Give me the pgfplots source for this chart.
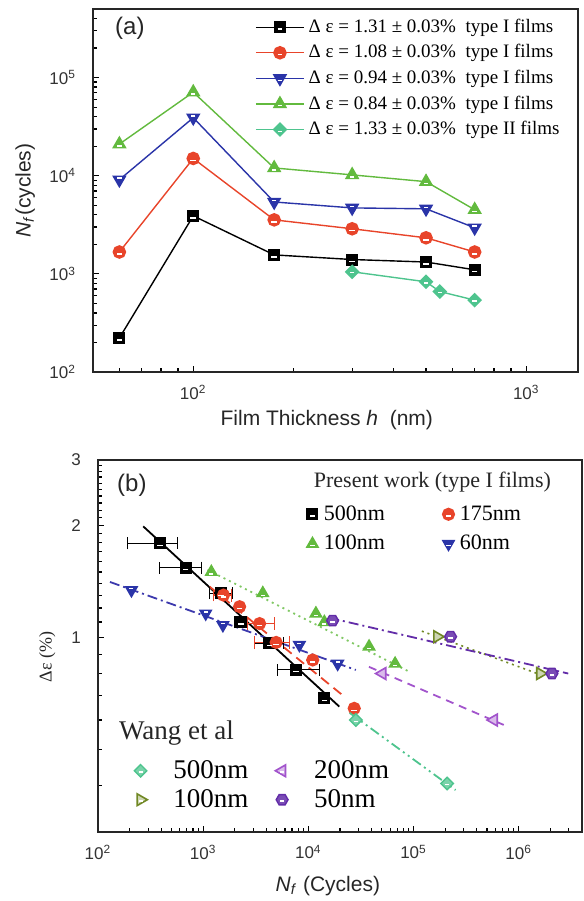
\documentclass[border=0pt]{standalone}
\usepackage{fontspec}
\setmainfont{Liberation Sans}
\newfontfamily\tnr{Liberation Serif}
\usepackage{pgfplots}
\usepackage{pgfplotstable}
\pgfplotsset{compat=1.18}

\definecolor{cRed}{RGB}{232,68,42}
\definecolor{cBlue}{RGB}{42,52,168}
\definecolor{cGreen}{RGB}{98,186,62}
\definecolor{cTeal}{RGB}{78,196,142}
\definecolor{cViolet}{RGB}{162,84,204}
\definecolor{cPurple}{RGB}{98,44,168}
\definecolor{cOlive}{RGB}{112,136,36}

% solid markers painted with a wide stroke (square, disc, triangles, diamond)
\pgfdeclareplotmark{Fsq}{\begin{pgfscope}\pgfsetmiterjoin\pgfsetlinewidth{\pgfplotmarksize}%
  \pgfpathrectangle{\pgfqpoint{-0.5\pgfplotmarksize}{-0.5\pgfplotmarksize}}{\pgfqpoint{\pgfplotmarksize}{\pgfplotmarksize}}%
  \pgfusepathqstroke\end{pgfscope}}
\pgfdeclareplotmark{Fci}{\begin{pgfscope}\pgfsetlinewidth{\pgfplotmarksize}%
  \pgfpathcircle{\pgfpointorigin}{0.5\pgfplotmarksize}\pgfusepathqstroke\end{pgfscope}}
\pgfdeclareplotmark{Ftu}{\begin{pgfscope}\pgfsetmiterjoin\pgfsetlinewidth{0.5\pgfplotmarksize}%
  \pgfpathmoveto{\pgfqpointpolar{90}{0.5\pgfplotmarksize}}%
  \pgfpathlineto{\pgfqpointpolar{210}{0.5\pgfplotmarksize}}%
  \pgfpathlineto{\pgfqpointpolar{330}{0.5\pgfplotmarksize}}%
  \pgfpathclose\pgfusepathqstroke\end{pgfscope}}
\pgfdeclareplotmark{Ftd}{\begin{pgfscope}\pgfsetmiterjoin\pgfsetlinewidth{0.5\pgfplotmarksize}%
  \pgfpathmoveto{\pgfqpointpolar{270}{0.5\pgfplotmarksize}}%
  \pgfpathlineto{\pgfqpointpolar{30}{0.5\pgfplotmarksize}}%
  \pgfpathlineto{\pgfqpointpolar{150}{0.5\pgfplotmarksize}}%
  \pgfpathclose\pgfusepathqstroke\end{pgfscope}}
\pgfdeclareplotmark{Fdi}{\begin{pgfscope}\pgfsetmiterjoin\pgfsetlinewidth{0.707\pgfplotmarksize}%
  \pgfpathmoveto{\pgfqpoint{0pt}{0.5\pgfplotmarksize}}%
  \pgfpathlineto{\pgfqpoint{0.5\pgfplotmarksize}{0pt}}%
  \pgfpathlineto{\pgfqpoint{0pt}{-0.5\pgfplotmarksize}}%
  \pgfpathlineto{\pgfqpoint{-0.5\pgfplotmarksize}{0pt}}%
  \pgfpathclose\pgfusepathqstroke\end{pgfscope}}
% square-shaped diamond and hexagon markers
\pgfdeclareplotmark{rdiamond*}{%
  \pgfpathmoveto{\pgfqpoint{0pt}{1.2\pgfplotmarksize}}%
  \pgfpathlineto{\pgfqpoint{1.2\pgfplotmarksize}{0pt}}%
  \pgfpathlineto{\pgfqpoint{0pt}{-1.2\pgfplotmarksize}}%
  \pgfpathlineto{\pgfqpoint{-1.2\pgfplotmarksize}{0pt}}%
  \pgfpathclose\pgfusepathqfillstroke}
\pgfdeclareplotmark{hexagon*}{%
  \pgfpathmoveto{\pgfqpointpolar{0}{1.1\pgfplotmarksize}}%
  \pgfpathlineto{\pgfqpointpolar{60}{1.1\pgfplotmarksize}}%
  \pgfpathlineto{\pgfqpointpolar{120}{1.1\pgfplotmarksize}}%
  \pgfpathlineto{\pgfqpointpolar{180}{1.1\pgfplotmarksize}}%
  \pgfpathlineto{\pgfqpointpolar{240}{1.1\pgfplotmarksize}}%
  \pgfpathlineto{\pgfqpointpolar{300}{1.1\pgfplotmarksize}}%
  \pgfpathclose\pgfusepathqfillstroke}

\pgfplotsset{
  panel/.style={
    scale only axis, tick pos=left, tick align=inside,
    major tick length=3pt, minor tick length=1.8pt,
    tick style={line width=0.6pt, black},
    axis line style={line width=0.9pt, black!85},
    tick label style={font=\fontsize{8.5}{10}\selectfont, text=black!80},
  },
  % short white dash drawn across the solid markers
  stripe/.style 2 args={forget plot, only marks, white, mark=-, mark size=#1,
    mark options={draw=white, solid, line width=0.7pt, yshift=#2}},
}

% ---- (a) fatigue life N_f against film thickness h
\pgfplotstableread{
h N
60 222
100 3900
175 1560
300 1400
500 1320
700 1100
}\aOne
\pgfplotstableread{
h N
60 1670
100 15000
175 3550
300 2880
500 2330
700 1670
}\aTwo
\pgfplotstableread{
h N
60 9100
100 39000
175 5400
300 4700
500 4600
700 2950
}\aThree
\pgfplotstableread{
h N
60 21000
100 71000
175 12000
300 10200
500 8700
700 4500
}\aFour
\pgfplotstableread{
h N
300 1050
500 830
550 660
700 540
}\aFive

% ---- (b) strain range against cycles, present work
\pgfplotstableread{
N de ep em
387 1.79 186 195
682 1.54 288 295
1485 1.315 415 335
2300 1.10 300 300
4270 0.965 1500 1190
7640 0.82 5060 2540
14200 0.686 0 0
}\bFive
\pgfplotstableread{
N de ep em
1560 1.30 300 300
2220 1.21 0 0
3440 1.09 1330 800
4940 0.97 1630 1860
11000 0.87 0 0
27300 0.645 0 0
}\bOneSeventyFive
\pgfplotstableread{
N de
1195 1.50
3690 1.315
11800 1.16
14200 1.10
37800 0.945
66800 0.85
}\bOneHundred
\pgfplotstableread{
N de
208 1.34
1057 1.16
1540 1.08
8220 0.955
19000 0.85
}\bSixty

% ---- (b) Wang et al
\pgfplotstableread{
N de
28300 0.60
209000 0.405
}\wFive
\pgfplotstableread{
N de
50600 0.80
580000 0.60
}\wTwo
\pgfplotstableread{
N de
168000 1.005
1600000 0.80
}\wOne
\pgfplotstableread{
N de
17000 1.11
225000 1.005
2070000 0.80
}\wFifty

\begin{document}
\begin{tikzpicture}[x=1pt,y=1pt]
\useasboundingbox (0,0) rectangle (292,450.5);

% ---------------- (a)
\begin{axis}[panel,
  at={(46.5pt,264.5pt)}, anchor=south west,
  width=242.5pt, height=181.5pt,
  xmode=log, ymode=log, xmin=50, xmax=1430, ymin=100, ymax=5e5,
  xtick={100,1000}, xticklabels={10\textsuperscript{2},10\textsuperscript{3}},
  minor xtick={50,60,70,80,90,200,300,400,500,600,700,800,900},
  ytick={100,1000,10000,100000},
  yticklabels={10\textsuperscript{2},10\textsuperscript{3},10\textsuperscript{4},10\textsuperscript{5}},
  minor ytick={200,300,400,500,600,700,800,900,2000,3000,4000,5000,6000,7000,8000,9000,
    20000,30000,40000,50000,60000,70000,80000,90000,200000,300000,400000,500000},
  yticklabel style={xshift=-5pt}, xticklabel style={yshift=-3pt},
  xlabel={Film Thickness \textit{h}\ \ (nm)},
  ylabel={\textit{N}\textsubscript{\textit{f}}(cycles)},
  every axis x label/.style={at={(axis description cs:0.482,-0.132)}, anchor=center,
    font=\fontsize{10.5}{12}\selectfont, text=black!85},
  every axis y label/.style={at={(axis description cs:-0.14,0.5)}, anchor=center, rotate=90,
    font=\fontsize{10.5}{12}\selectfont, text=black!85},
  legend style={at={(axis description cs:0.975,0.99)}, anchor=north east, draw=none, fill=none,
    font=\tnr\fontsize{9.5}{11}\selectfont, row sep=0.6pt, inner sep=1pt},
  legend cell align=left,
  legend image code/.code={%
    \draw[mark repeat=2,mark phase=2,#1] plot coordinates {(0pt,0pt)(12pt,0pt)(24pt,0pt)};
    \draw[white, line width=0.6pt] (10.8pt,-0.9pt) -- (13.2pt,-0.9pt);},
]
\addplot[black, line width=0.7pt, mark=Fsq, mark size=3pt] table[x=h, y=N] {\aOne};
\addlegendentry{Δ ε = 1.31 ± 0.03\%\enspace type I films}
\addplot[cRed, line width=0.7pt, mark=Fci, mark size=3.3pt] table[x=h, y=N] {\aTwo};
\addlegendentry{Δ ε = 1.08 ± 0.03\%\enspace type I films}
\addplot[cBlue, line width=0.7pt, mark=Ftd, mark size=4.2pt] table[x=h, y=N] {\aThree};
\addlegendentry{Δ ε = 0.94 ± 0.03\%\enspace type I films}
\addplot[cGreen, line width=0.7pt, mark=Ftu, mark size=4.2pt] table[x=h, y=N] {\aFour};
\addlegendentry{Δ ε = 0.84 ± 0.03\%\enspace type I films}
\addplot[cTeal, line width=0.7pt, mark=Fdi, mark size=3.7pt] table[x=h, y=N] {\aFive};
\addlegendentry{Δ ε = 1.33 ± 0.03\%\enspace type II films}
\addplot[stripe={1.4pt}{-1pt}] table[x=h, y=N] {\aOne};
\addplot[stripe={1.4pt}{-1pt}] table[x=h, y=N] {\aTwo};
\addplot[stripe={1.1pt}{0.8pt}] table[x=h, y=N] {\aThree};
\addplot[stripe={1.1pt}{-1pt}] table[x=h, y=N] {\aFour};
\addplot[stripe={1.1pt}{-0.5pt}] table[x=h, y=N] {\aFive};
\node[font=\fontsize{12}{14}\selectfont, text=black!85] at (axis description cs:0.076,0.948) {(a)};
\end{axis}

% ---------------- (b) present work
\begin{axis}[panel,
  at={(49pt,34.5pt)}, anchor=south west,
  width=242pt, height=186pt,
  xmode=log, ymode=log, xmin=100, xmax=4e6, ymin=0.3, ymax=3,
  xtick={100,1000,10000,100000,1000000},
  xticklabels={10\textsuperscript{2},10\textsuperscript{3},10\textsuperscript{4},10\textsuperscript{5},10\textsuperscript{6}},
  minor xtick={200,300,400,500,600,700,800,900,2000,3000,4000,5000,6000,7000,8000,9000,
    20000,30000,40000,50000,60000,70000,80000,90000,200000,300000,400000,500000,600000,700000,800000,900000,
    2000000,3000000,4000000},
  ytick={1,2,3}, yticklabels={1,2,3},
  minor ytick={0.3,0.4,0.5,0.6,0.7,0.8,0.9,1.1,1.2,1.3,1.4,1.5,1.6,1.7,1.8,1.9,2.1,2.2,2.3,2.4,2.5,2.6,2.7,2.8,2.9},
  yticklabel style={xshift=-5pt}, xticklabel style={yshift=-3pt},
  xlabel={\textit{N}\textsubscript{\textit{f}} (Cycles)},
  ylabel={\tnr Δε (\%)},
  every axis x label/.style={at={(axis description cs:0.475,-0.145)}, anchor=center,
    font=\fontsize{10.5}{12}\selectfont, text=black!85},
  every axis y label/.style={at={(axis description cs:-0.105,0.47)}, anchor=center, rotate=90,
    font=\fontsize{9}{11}\selectfont, text=black!85},
  legend style={at={(axis description cs:0.431,0.895)}, anchor=north west, draw=none, fill=none,
    font=\tnr\fontsize{11}{13}\selectfont, row sep=2pt, inner sep=1pt,
    /tikz/every odd column/.append style={column sep=2pt},
    /tikz/every even column/.append style={column sep=28pt}},
  legend columns=2, legend cell align=left,
  legend image code/.code={%
    \draw[#1] plot coordinates {(0pt,0pt)};
    \draw[white, line width=0.6pt] (-1.2pt,-0.9pt) -- (1.2pt,-0.9pt);},
]
% fitted lines
\addplot[forget plot, black, line width=0.9pt] coordinates {(269,1.99) (19700,0.652)};
\addplot[forget plot, cRed, line width=0.9pt, dash pattern=on 5pt off 3pt] coordinates {(1150,1.37) (21100,0.70)};
\addplot[forget plot, cGreen!80, line width=0.9pt, dash pattern=on 1pt off 2pt] coordinates {(1100,1.52) (90600,0.81)};
\addplot[forget plot, cBlue!85!cViolet, line width=0.9pt, dash pattern=on 5pt off 2pt on 1pt off 2pt] coordinates {(130,1.41) (28300,0.818)};
% measured points
\addplot[only marks, black, line width=0.6pt, mark=Fsq, mark size=3pt,
  error bars/.cd, x dir=both, x explicit, error bar style={line width=0.7pt}]
  table[x=N, y=de, x error plus=ep, x error minus=em] {\bFive};
\addlegendentry{500nm}
\addplot[only marks, cRed, line width=0.6pt, mark=Fci, mark size=3.2pt,
  error bars/.cd, x dir=both, x explicit, error bar style={line width=0.7pt}]
  table[x=N, y=de, x error plus=ep, x error minus=em] {\bOneSeventyFive};
\addlegendentry{175nm}
\addplot[only marks, cGreen, line width=0.6pt, mark=Ftu, mark size=4pt] table[x=N, y=de] {\bOneHundred};
\addlegendentry{100nm}
\addplot[only marks, cBlue, line width=0.6pt, mark=Ftd, mark size=4pt] table[x=N, y=de] {\bSixty};
\addlegendentry{60nm}
\addplot[stripe={1.4pt}{-1pt}] table[x=N, y=de] {\bFive};
\addplot[stripe={1.4pt}{-1pt}] table[x=N, y=de] {\bOneSeventyFive};
\addplot[stripe={1pt}{-1pt}] table[x=N, y=de] {\bOneHundred};
\addplot[stripe={1pt}{0.8pt}] table[x=N, y=de] {\bSixty};
\node[font=\fontsize{12}{14}\selectfont, text=black!85] at (axis description cs:0.07,0.933) {(b)};
\node[font=\tnr\fontsize{11}{13}\selectfont, text=black!85] at (axis description cs:0.691,0.941) {Present work (type I films)};
\end{axis}

% ---------------- (b) Wang et al
\begin{axis}[
  at={(49pt,34.5pt)}, anchor=south west, scale only axis,
  width=242pt, height=186pt, hide axis,
  xmode=log, ymode=log, xmin=100, xmax=4e6, ymin=0.3, ymax=3,
  legend style={at={(axis description cs:0.07,0.21)}, anchor=north west, draw=none, fill=none,
    font=\tnr\fontsize{13.5}{15}\selectfont, row sep=0pt, inner sep=1pt,
    /tikz/every odd column/.append style={column sep=11pt},
    /tikz/every even column/.append style={column sep=11.5pt}},
  legend columns=2, legend cell align=left,
  legend image code/.code={%
    \draw[#1] plot coordinates {(0pt,0pt)};
    \draw[white, line width=0.6pt] (-1pt,-0.6pt) -- (1pt,-0.6pt);},
]
\addplot[forget plot, cTeal, line width=0.9pt, dash pattern=on 5pt off 2pt on 1pt off 2pt on 1pt off 2pt] coordinates {(24700,0.627) (251000,0.389)};
\addplot[forget plot, cViolet, line width=0.9pt, dash pattern=on 4pt off 3pt] coordinates {(37700,0.834) (721000,0.582)};
\addplot[forget plot, cOlive, line width=0.8pt, dash pattern=on 1pt off 2pt] coordinates {(120000,1.04) (1700000,0.79)};
\addplot[forget plot, cPurple, line width=0.9pt, dash pattern=on 5pt off 2pt on 1pt off 2pt] coordinates {(15800,1.13) (2960000,0.80)};
\addplot[only marks, cTeal, line width=0.7pt, mark=rdiamond*, mark size=2.6pt, mark options={fill=cTeal!75}]
  table[x=N, y=de] {\wFive};
\addlegendentry{500nm}
\addplot[only marks, cViolet, line width=0.8pt, mark=triangle*, mark size=3.4pt, mark options={fill=cViolet!40, rotate=90}]
  table[x=N, y=de] {\wTwo};
\addlegendentry{200nm}
\addplot[only marks, cOlive, line width=0.8pt, mark=triangle*, mark size=3.4pt, mark options={fill=cOlive!35, rotate=-90}]
  table[x=N, y=de] {\wOne};
\addlegendentry{100nm}
\addplot[only marks, cPurple, line width=0.7pt, mark=hexagon*, mark size=2.7pt, mark options={fill=cPurple!85}]
  table[x=N, y=de] {\wFifty};
\addlegendentry{50nm}
\addplot[stripe={1pt}{-0.6pt}] table[x=N, y=de] {\wFive};
\addplot[stripe={1.2pt}{-0.7pt}] table[x=N, y=de] {\wFifty};
\node[font=\tnr\fontsize{13.5}{15}\selectfont, text=black!85, anchor=west] at (axis description cs:0.029,0.266) {Wang et al};
\end{axis}
\end{tikzpicture}
\end{document}
